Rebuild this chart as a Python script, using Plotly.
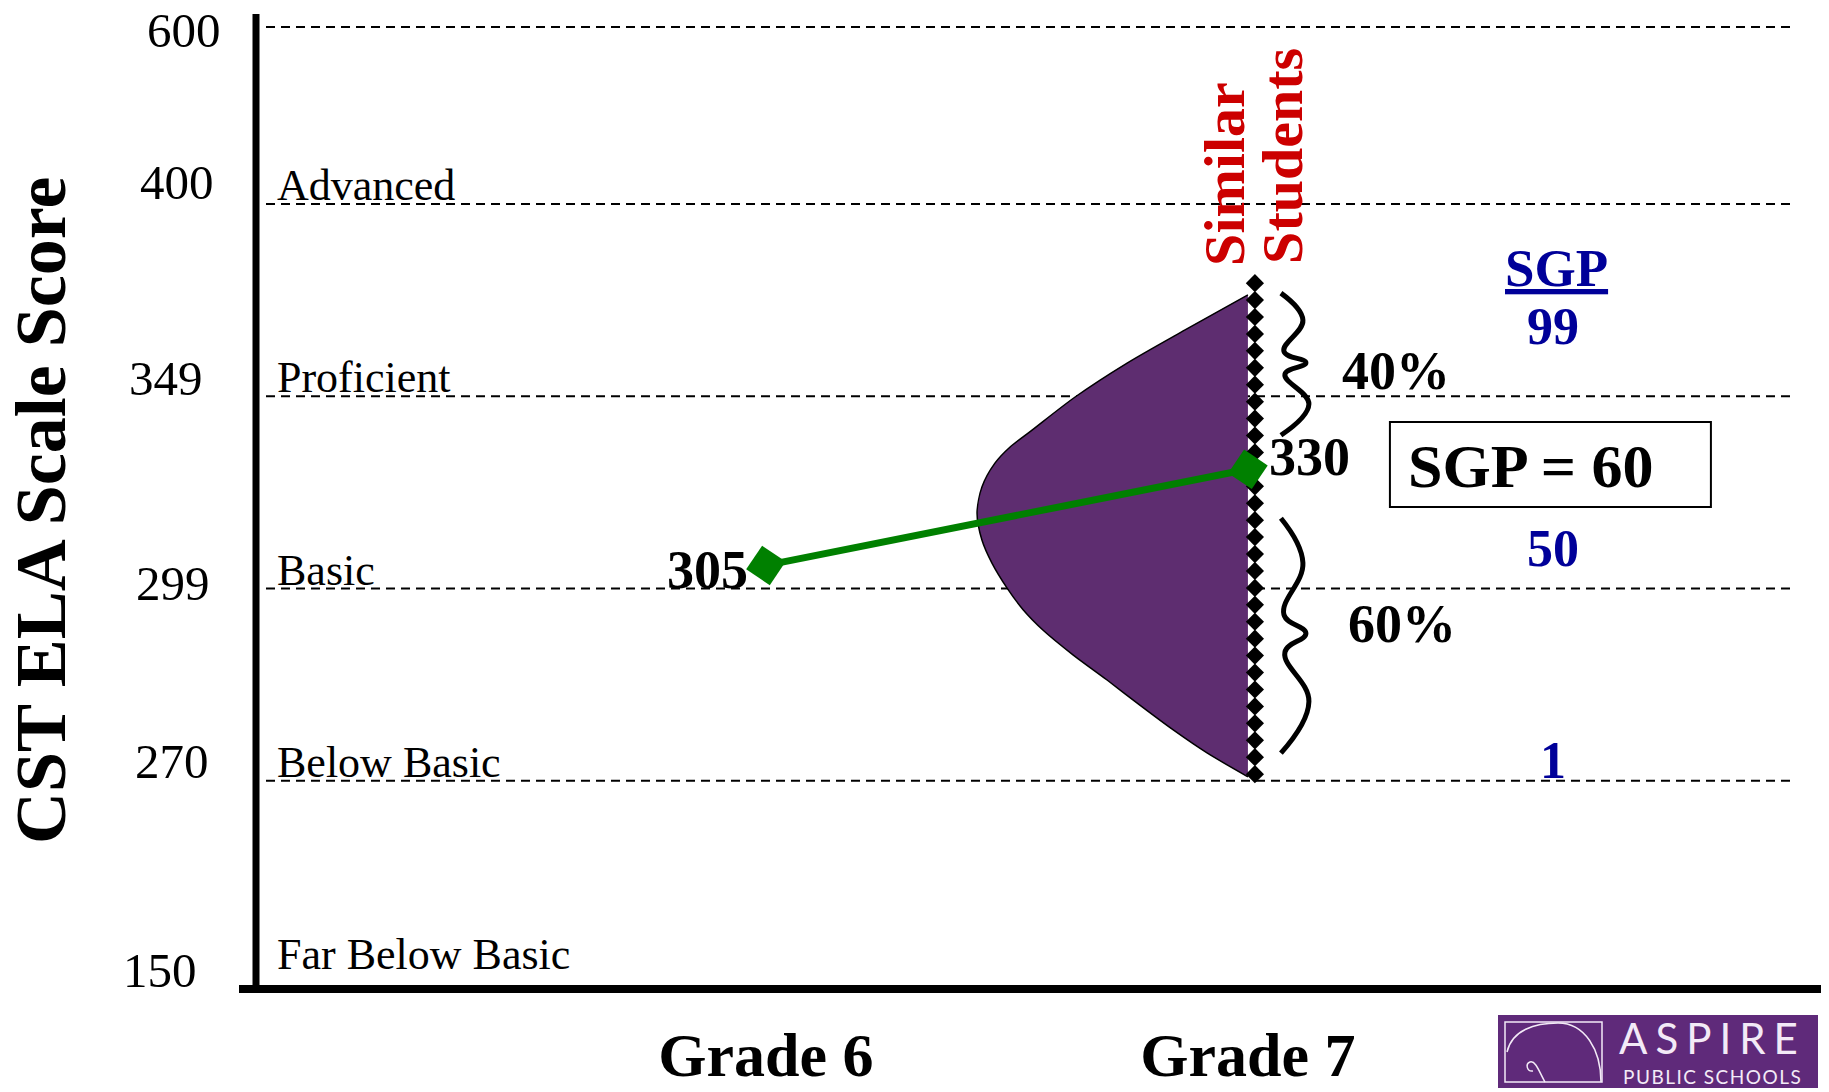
import numpy as np
import plotly.graph_objects as go

# ---------------- data ----------------
grades = ["Grade 6", "Grade 7"]
student_scores = [305, 330]
level_scores = [150, 270, 299, 349, 400, 600]
level_names = ["Far Below Basic", "Below Basic", "Basic", "Proficient", "Advanced"]
similar_scores = [375.9, 366.6, 357.8, 348.8, 340.2, 335.8, 331.6, 325.4, 318.6, 311.6,
                  305.6, 299.1, 295.8, 292.7, 289.0, 285.2, 281.4, 277.7, 274.2, 270.6]
similar_density = [0, 23.2, 44.6, 63.8, 79.7, 87.8, 93.4, 98.2, 100, 98.2,
                   94.5, 88.9, 83.0, 75.6, 64.6, 52.0, 39.9, 27.7, 15.1, 0]
similar_range = [271, 379]
share_labels = ["40%", "60%"]
sgp_scale = ["99", "50", "1"]
sgp_value = 60

# ---------------- layout helpers ----------------
W, H = 1829, 1092
ML, MR, MT, MB = 256, 8, 14, 103
level_pos = [0, 1, 2, 3, 4, 4.92]          # display position of each level line


def pos(score):
    return float(np.interp(score, level_scores, level_pos))


def X(px):   # pixel -> x data
    return 1 + (px - 766) / 482


def Y(py):   # pixel -> y data
    return (973 - py) / 192.25


def PX(px):  # pixel -> paper x
    return (px - ML) / (W - ML - MR)


def PY(py):  # pixel -> paper y
    return (H - MB - py) / (H - MT - MB)


SERIF = "Liberation Serif"
PURPLE = "#5E2D70"
GREEN = "#008000"
RED = "#CC0000"
BLUE = "#000099"

fig = go.Figure()

# similar-students distribution (half violin on the Grade 7 line)
max_width = 0.562
dx = [2 - d / 100 * max_width for d in similar_density]
dy = [pos(s) for s in similar_scores]
fig.add_trace(go.Scatter(
    x=dx, y=dy, mode="lines", fill="toself", fillcolor=PURPLE,
    line=dict(color="black", width=1.5, shape="spline", smoothing=0.8),
    hoverinfo="skip", showlegend=False))

# dotted diamond column for the similar-students range
n_dots = 30
col_y = np.linspace(pos(similar_range[1]), pos(similar_range[0]), n_dots)
fig.add_trace(go.Scatter(
    x=[2.0145] * n_dots, y=col_y, mode="markers",
    marker=dict(symbol="diamond", size=14, color="black"),
    hoverinfo="skip", showlegend=False))

# curly braces
t_pat = [0, .19, .41, .49, .57, .78, 1]
dx_pat = [0, 22, 3, 25, 4, 28, 0]


def brace(py0, py1):
    ys = [Y(py0 + t * (py1 - py0)) for t in t_pat]
    xs = [X(1281 + d) for d in dx_pat]
    return xs, ys


y_top = 973 - 192.25 * pos(similar_range[1])
y_stu = 973 - 192.25 * pos(student_scores[1])
y_bot = 973 - 192.25 * pos(similar_range[0])
for (a, b) in [(y_top + 10, y_stu - 34), (y_stu + 49, y_bot - 21)]:
    bx, by = brace(a, b)
    fig.add_trace(go.Scatter(
        x=bx, y=by, mode="lines",
        line=dict(color="black", width=5, shape="spline", smoothing=1.2),
        hoverinfo="skip", showlegend=False))

# student growth line
fig.add_trace(go.Scatter(
    x=[1, 2], y=[pos(s) for s in student_scores], mode="lines+markers",
    line=dict(color=GREEN, width=7),
    marker=dict(symbol="diamond", size=31, color=GREEN, angle=-11),
    hoverinfo="skip", showlegend=False))

shapes = []
annotations = []

# level lines
for s in level_scores[1:]:
    shapes.append(dict(type="line", xref="paper", yref="y",
                       x0=PX(266), x1=PX(1790), y0=pos(s), y1=pos(s),
                       line=dict(color="black", width=2, dash="9px,6px"),
                       layer="below"))

# level names
for s, name in zip(level_scores[:5], level_names):
    annotations.append(dict(x=PX(275), y=pos(s), xref="paper", yref="y",
                            text=name, showarrow=False, xanchor="left",
                            yanchor="bottom", yshift=-8,
                            font=dict(family=SERIF, size=44, color="black")))

# score-axis tick labels (placed as in the original slide)
tick_right = [198, 210, 211, 204, 215, 222]
tick_lift = [3, 19, 5, 18, 21, -3]
for s, xr, lift in zip(level_scores, tick_right, tick_lift):
    annotations.append(dict(x=PX(xr), y=pos(s), xref="paper", yref="y",
                            text=str(s), showarrow=False, xanchor="right",
                            yanchor="middle", yshift=lift, borderpad=0,
                            font=dict(family=SERIF, size=49, color="black")))

# axis lines
shapes.append(dict(type="line", xref="paper", yref="paper", x0=0, x1=0,
                   y0=0, y1=1, line=dict(color="black", width=7)))
shapes.append(dict(type="line", xref="paper", yref="paper", x0=PX(239), x1=1,
                   y0=0, y1=0, line=dict(color="black", width=8)))

# y-axis title
annotations.append(dict(x=PX(41), y=PY(511), xref="paper", yref="paper",
                        text="<b>CST ELA Scale Score</b>", textangle=-90,
                        showarrow=False, xanchor="center", yanchor="middle",
                        font=dict(family=SERIF, size=72, color="black")))

# score labels
annotations.append(dict(x=1, y=pos(student_scores[0]), xref="x", yref="y",
                        text="<b>%d</b>" % student_scores[0], showarrow=False,
                        xanchor="right", yanchor="middle", xshift=-16, yshift=-5,
                        font=dict(family=SERIF, size=54, color="black")))
annotations.append(dict(x=2, y=pos(student_scores[1]), xref="x", yref="y",
                        text="<b>%d</b>" % student_scores[1], showarrow=False,
                        xanchor="left", yanchor="middle", xshift=19, yshift=12,
                        font=dict(family=SERIF, size=54, color="black")))

# Similar Students
annotations.append(dict(x=X(1225), y=Y(174), xref="x", yref="y",
                        text="<b>Similar</b>", textangle=-90, showarrow=False,
                        xanchor="center", yanchor="middle",
                        font=dict(family=SERIF, size=58, color=RED)))
annotations.append(dict(x=X(1283), y=Y(156), xref="x", yref="y",
                        text="<b>Students</b>", textangle=-90, showarrow=False,
                        xanchor="center", yanchor="middle",
                        font=dict(family=SERIF, size=58, color=RED)))

# percentages
for txt, (px_, py_) in zip(share_labels, [(1340, 371), (1346, 624)]):
    annotations.append(dict(x=X(px_), y=Y(py_), xref="x", yref="y",
                            text="<b>%s</b>" % txt, showarrow=False,
                            xanchor="left", yanchor="middle",
                            font=dict(family=SERIF, size=54, color="black")))

# SGP box
shapes.append(dict(type="rect", xref="x", yref="y", x0=X(1390), x1=X(1711),
                   y0=Y(507), y1=Y(422), line=dict(color="black", width=2),
                   fillcolor="white"))
annotations.append(dict(x=X(1406), y=Y(466), xref="x", yref="y",
                        text="<b>SGP = %d</b>" % sgp_value, showarrow=False,
                        xanchor="left", yanchor="middle",
                        font=dict(family=SERIF, size=62, color="black")))

# SGP scale
annotations.append(dict(x=X(1557), y=Y(268), xref="x", yref="y",
                        text="<b><u>SGP</u></b>", showarrow=False,
                        xanchor="center", yanchor="middle",
                        font=dict(family=SERIF, size=53, color=BLUE)))
for txt, py_ in zip(sgp_scale, [327, 548, 760]):
    annotations.append(dict(x=X(1553), y=Y(py_), xref="x", yref="y",
                            text="<b>%s</b>" % txt, showarrow=False,
                            xanchor="center", yanchor="middle",
                            font=dict(family=SERIF, size=52, color=BLUE)))

# logo
LOGO = "#5F2A7A"
LOGO_TXT = "#F3EAF7"
shapes.append(dict(type="rect", xref="paper", yref="paper",
                   x0=PX(1498), x1=PX(1818), y0=PY(1088), y1=PY(1015),
                   fillcolor=LOGO, line=dict(width=0)))
shapes.append(dict(type="rect", xref="paper", yref="paper",
                   x0=PX(1505), x1=PX(1602), y0=PY(1082), y1=PY(1022),
                   line=dict(color=LOGO_TXT, width=1.5)))


def P(px_, py_):
    return "%.5f,%.5f" % (PX(px_), PY(py_))


arc = ("M " + P(1507, 1052) + " C " + P(1512, 1030) + " " + P(1535, 1023) + " "
       + P(1558, 1023) + " C " + P(1585, 1023) + " " + P(1601, 1050) + " " + P(1601, 1082))
shapes.append(dict(type="path", xref="paper", yref="paper", path=arc,
                   line=dict(color=LOGO_TXT, width=1.5)))
spiral = ("M " + P(1545, 1082) + " C " + P(1540, 1074) + " " + P(1536, 1060) + " "
          + P(1530, 1062) + " C " + P(1525, 1064) + " " + P(1527, 1072) + " " + P(1533, 1071))
shapes.append(dict(type="path", xref="paper", yref="paper", path=spiral,
                   line=dict(color=LOGO_TXT, width=1.5)))
annotations.append(dict(x=PX(1712), y=PY(1038), xref="paper", yref="paper",
                        text='<span style="letter-spacing:8px">ASPIRE</span>',
                        showarrow=False, xanchor="center", yanchor="middle",
                        borderpad=0,
                        font=dict(family="Lato", size=42, color=LOGO_TXT)))
annotations.append(dict(x=PX(1712), y=PY(1076), xref="paper", yref="paper",
                        text='<span style="letter-spacing:1.5px">PUBLIC SCHOOLS</span>',
                        showarrow=False, xanchor="center", yanchor="middle",
                        borderpad=0,
                        font=dict(family="Lato", size=19, color=LOGO_TXT)))

fig.update_layout(
    width=W, height=H,
    margin=dict(l=ML, r=MR, t=MT, b=MB, pad=0, autoexpand=False),
    paper_bgcolor="white", plot_bgcolor="white",
    shapes=shapes, annotations=annotations,
    showlegend=False,
    xaxis=dict(range=[-0.058, 3.189], showgrid=False, zeroline=False,
               showline=False, tickvals=[1, 2],
               ticktext=["<b>%s</b>" % g for g in grades], ticks="",
               ticklabelstandoff=24, automargin=False,
               tickfont=dict(family=SERIF, size=62, color="black"),
               fixedrange=True),
    yaxis=dict(range=[-0.083, 4.988], showgrid=False, zeroline=False,
               showline=False, tickvals=[pos(s) for s in level_scores],
               showticklabels=False, ticks="", automargin=False,
               fixedrange=True),
)

fig.write_html("out.html")
